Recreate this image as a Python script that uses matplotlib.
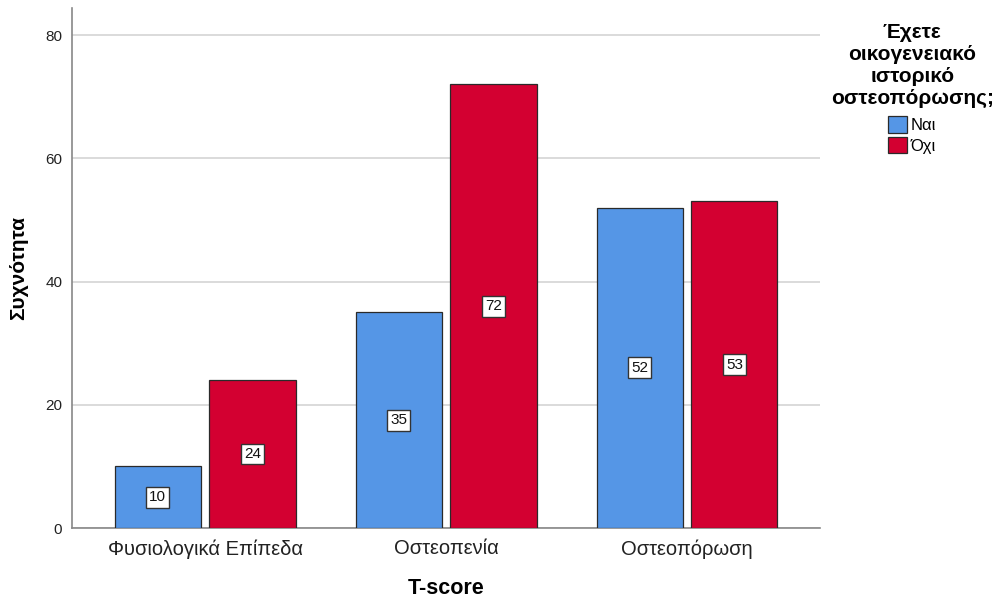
import numpy as np
import matplotlib.pyplot as plt
from matplotlib.patches import Patch

plt.rcParams['font.family'] = ['Liberation Sans', 'DejaVu Sans']

categories = ['Φυσιολογικά Επίπεδα', 'Οστεοπενία', 'Οστεοπόρωση']
nai = [10, 35, 52]
oxi = [24, 72, 53]
series_names = ['Ναι', 'Όχι']
colors = ['#5596E6', '#D30031']

fig = plt.figure(figsize=(9.97, 6.06), dpi=100)
ax = fig.add_axes([0.0722, 0.1287, 0.7503, 0.8581])

x = np.arange(len(categories))
w = 0.357
off = 0.197
for vals, dx, col in [(nai, -off, colors[0]), (oxi, off, colors[1])]:
    bars = ax.bar(x + dx, vals, width=w, color=col, edgecolor='#2a2a2a', linewidth=0.9, zorder=3)
    for b, v in zip(bars, vals):
        ax.text(b.get_x() + b.get_width() / 2, v / 2, str(v), ha='center', va='center',
                fontsize=11, color='#111111', zorder=4,
                bbox=dict(boxstyle='square,pad=0.22', fc='white', ec='#333333', lw=1.0))

ax.set_xlim(-0.552, 2.552)
ax.set_ylim(0, 84.4)
ax.set_yticks([0, 20, 40, 60, 80])
ax.set_xticks(x)
ax.set_xticklabels(categories, fontsize=14.5, color='#222222')
ax.tick_params(axis='y', labelsize=11, colors='#222222', length=0, pad=7)
ax.tick_params(axis='x', length=0, pad=8)
ax.yaxis.grid(True, color='#d4d4d4', linewidth=1.2, zorder=0)
ax.set_axisbelow(True)
for s in ['top', 'right']:
    ax.spines[s].set_visible(False)
ax.spines['left'].set_color('#888888')
ax.spines['bottom'].set_color('#888888')
ax.spines['left'].set_linewidth(1.2)
ax.spines['bottom'].set_linewidth(1.2)

ax.set_ylabel('Συχνότητα', fontsize=15, fontweight='bold', labelpad=12)
ax.set_xlabel('T-score', fontsize=15.5, fontweight='bold', labelpad=14)

handles = [Patch(facecolor=c, edgecolor='#2a2a2a', linewidth=0.9) for c in colors]
leg = fig.legend(handles, series_names, title='Έχετε\nοικογενειακό\nιστορικό\nοστεοπόρωσης;',
                 loc='upper center', bbox_to_anchor=(0.915, 0.973), frameon=False,
                 fontsize=12, title_fontproperties={'weight': 'bold', 'size': 15},
                 handlelength=1.15, handleheight=1.15, handletextpad=0.2, labelspacing=0.2,
                 borderaxespad=0)
leg.get_title().set_multialignment('center')
leg._legend_box.sep = 6

fig.savefig('out.png', dpi=100)
